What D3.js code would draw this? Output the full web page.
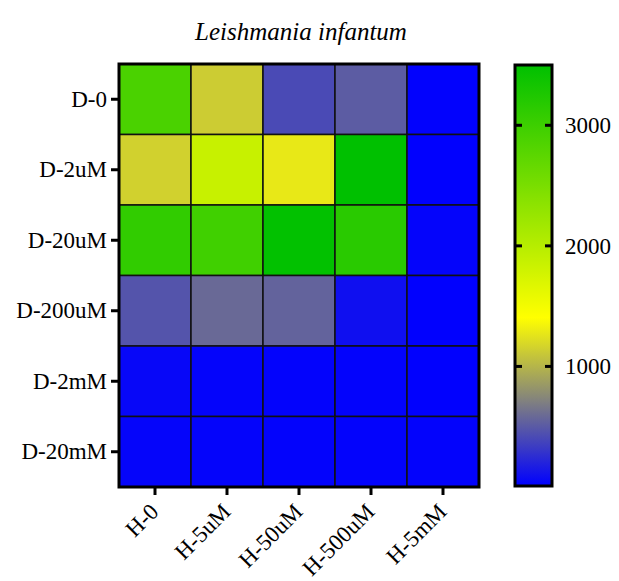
<!DOCTYPE html>
<html>
<head>
<meta charset="utf-8">
<script src="https://cdn.jsdelivr.net/npm/d3@7"></script>
<style>
  html, body { margin: 0; padding: 0; background: #fff; }
  svg { display: block; font-family: "Liberation Serif", "Times New Roman", serif; }
</style>
</head>
<body>
<svg id="chart" width="619" height="581"></svg>
<script>
// Treatment levels
const rows = ["D-0", "D-2uM", "D-20uM", "D-200uM", "D-2mM", "D-20mM"];
const cols = ["H-0", "H-5uM", "H-50uM", "H-500uM", "H-5mM"];

// Measured values, one array per row
const rowD0    = [2890, 1120, 406, 504, 10];
const rowD2uM  = [1150, 1860, 1275, 3500, 5];
const rowD20uM = [3100, 2975, 3480, 3160, 20];
const rowD200uM= [460, 575, 545, 85, 5];
const rowD2mM  = [40, 20, 15, 15, 5];
const rowD20mM = [25, 20, 15, 15, 15];
const values = [rowD0, rowD2uM, rowD20uM, rowD200uM, rowD2mM, rowD20mM];

const colorTicks = [1000, 2000, 3000];
const colorDomain = [0, 1400, 3500];
const colorRange = ["#0000ff", "#ffff00", "#00c000"];

const FONT = "Liberation Serif, Times New Roman, serif";
const LABEL_SIZE = 23;

const svg = d3.select("#chart");

const plotLeft = 119, plotRight = 479, plotTop = 64, plotBottom = 487;

const x = d3.scaleBand().domain(cols).range([plotLeft, plotRight]).padding(0);
const y = d3.scaleBand().domain(rows).range([plotTop, plotBottom]).padding(0);
const color = d3.scaleLinear().domain(colorDomain).range(colorRange)
  .interpolate(d3.interpolateRgb).clamp(true);

// Title
svg.append("text")
  .attr("x", 301).attr("y", 40)
  .attr("text-anchor", "middle")
  .attr("font-size", 25)
  .attr("font-style", "italic")
  .attr("font-family", FONT)
  .text("Leishmania infantum");

// Cells
const cells = [];
values.forEach((r, i) => r.forEach((v, j) => cells.push({ row: rows[i], col: cols[j], v })));
svg.append("g").selectAll("rect")
  .data(cells).join("rect")
  .attr("x", d => x(d.col))
  .attr("y", d => y(d.row))
  .attr("width", x.bandwidth())
  .attr("height", y.bandwidth())
  .attr("fill", d => color(d.v))
  .attr("stroke", "#111")
  .attr("stroke-width", 1.5);

// Outer frame
svg.append("rect")
  .attr("x", plotLeft).attr("y", plotTop)
  .attr("width", plotRight - plotLeft).attr("height", plotBottom - plotTop)
  .attr("fill", "none").attr("stroke", "#000").attr("stroke-width", 3);

// Y axis
const yAxis = svg.append("g")
  .attr("transform", `translate(${plotLeft - 1},0)`)
  .call(d3.axisLeft(y).tickSize(7).tickPadding(4));
yAxis.select(".domain").remove();
yAxis.selectAll(".tick line").attr("stroke", "#000").attr("stroke-width", 3);
yAxis.selectAll(".tick text")
  .attr("font-size", LABEL_SIZE)
  .attr("font-family", FONT)
  .attr("fill", "#000");

// X axis
const xAxis = svg.append("g")
  .attr("transform", `translate(0,${plotBottom + 1})`)
  .call(d3.axisBottom(x).tickSize(7));
xAxis.select(".domain").remove();
xAxis.selectAll(".tick line").attr("stroke", "#000").attr("stroke-width", 3);
xAxis.selectAll(".tick text")
  .attr("font-size", LABEL_SIZE)
  .attr("font-family", FONT)
  .attr("fill", "#000")
  .attr("text-anchor", "end")
  .attr("x", 0).attr("y", 0).attr("dy", 0)
  .attr("transform", "translate(5,25) rotate(-45)");

// Colour bar
const cbLeft = 515, cbRight = 552, cbTop = 65, cbBottom = 486;
const cbScale = d3.scaleLinear().domain([0, 3500]).range([487, 65]);

const defs = svg.append("defs");
const grad = defs.append("linearGradient")
  .attr("id", "cbgrad")
  .attr("x1", 0).attr("y1", 1).attr("x2", 0).attr("y2", 0);
d3.range(0, 3501, 100).forEach(v => {
  grad.append("stop")
    .attr("offset", v / 3500)
    .attr("stop-color", color(v));
});

svg.append("rect")
  .attr("x", cbLeft).attr("y", cbTop)
  .attr("width", cbRight - cbLeft).attr("height", cbBottom - cbTop)
  .attr("fill", "url(#cbgrad)")
  .attr("stroke", "#000").attr("stroke-width", 3);

// Inward ticks on both edges of the colour bar
const cbTicks = svg.append("g");
cbTicks.selectAll("line.l").data(colorTicks).join("line")
  .attr("class", "l")
  .attr("x1", cbLeft).attr("x2", cbLeft + 7)
  .attr("y1", d => cbScale(d)).attr("y2", d => cbScale(d))
  .attr("stroke", "#000").attr("stroke-width", 3);
cbTicks.selectAll("line.r").data(colorTicks).join("line")
  .attr("class", "r")
  .attr("x1", cbRight - 7).attr("x2", cbRight)
  .attr("y1", d => cbScale(d)).attr("y2", d => cbScale(d))
  .attr("stroke", "#000").attr("stroke-width", 3);

const cbAxis = svg.append("g")
  .attr("transform", `translate(${cbRight},0)`)
  .call(d3.axisRight(cbScale).tickValues(colorTicks).tickSize(0).tickPadding(13).tickFormat(d3.format("d")));
cbAxis.select(".domain").remove();
cbAxis.selectAll(".tick text")
  .attr("font-size", LABEL_SIZE)
  .attr("font-family", FONT)
  .attr("fill", "#000");
</script>
</body>
</html>
